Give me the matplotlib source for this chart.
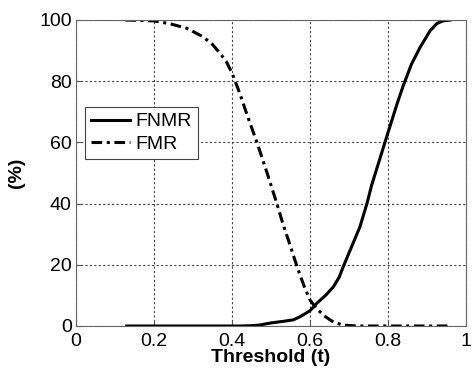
import matplotlib.pyplot as plt

plt.rcParams['font.family'] = ['Liberation Sans', 'DejaVu Sans']

# threshold values and error rates (%)
fnmr_t = [0.13, 0.30, 0.42, 0.45, 0.47, 0.50, 0.53, 0.557, 0.574, 0.59, 0.60, 0.618,
          0.64, 0.66, 0.675, 0.685, 0.703, 0.728, 0.746, 0.758, 0.78, 0.797, 0.823,
          0.839, 0.86, 0.882, 0.908, 0.925, 0.94, 0.96]
fnmr = [0.0, 0.0, 0.0, 0.1, 0.3, 1.0, 1.5, 2.0, 3.0, 4.2, 5.0, 7.5,
        10.0, 12.8, 16.0, 19.3, 24.8, 32.4, 40.0, 46.0, 55.0, 62.0, 72.5,
        78.5, 85.5, 91.0, 96.5, 98.8, 99.7, 100.0]

fmr_t = [0.126, 0.20, 0.24, 0.284, 0.326, 0.35, 0.37, 0.385, 0.40, 0.42, 0.44,
         0.464, 0.49, 0.515, 0.53, 0.55, 0.567, 0.585, 0.60, 0.618, 0.64, 0.66,
         0.685, 0.72, 0.80, 0.96]
fmr = [100.0, 99.7, 98.8, 97.3, 94.5, 92.0, 89.0, 86.5, 82.7, 76.0, 68.5,
       60.0, 50.0, 40.0, 33.6, 26.0, 19.3, 13.0, 8.5, 5.5, 3.0, 1.3,
       0.3, 0.0, 0.0, 0.0]

fig = plt.figure(figsize=(4.72, 3.71), dpi=100)
ax = fig.add_axes([76 / 472, 45 / 371, 390 / 472, 306 / 371])

ax.plot(fnmr_t, fnmr, color='black', linewidth=2.2, label='FNMR')
ax.plot(fmr_t, fmr, color='black', linewidth=2.2, dashes=(3.5, 1.5, 1, 1.5), label='FMR')

ax.set_xlim(0, 1)
ax.set_ylim(0, 100)
ax.set_xticks([0, 0.2, 0.4, 0.6, 0.8, 1])
ax.set_xticklabels(['0', '0.2', '0.4', '0.6', '0.8', '1'])
ax.set_yticks([0, 20, 40, 60, 80, 100])
ax.tick_params(direction='in', length=4, labelsize=14, colors='#555555', labelcolor='black')
ax.tick_params(axis='x', pad=5)
ax.tick_params(axis='y', pad=3)
ax.grid(True, color='#444444', linestyle=(0, (2, 2)), linewidth=0.8)
for s in ax.spines.values():
    s.set_color('#666666')

ax.set_xlabel('Threshold (t)', fontsize=14, fontweight='bold', labelpad=-1)
ax.set_ylabel('(%)', fontsize=14, fontweight='bold', labelpad=10)

leg = ax.legend(loc='upper left', bbox_to_anchor=(0.023, 0.716), fontsize=14,
                fancybox=False, framealpha=1, edgecolor='#444444',
                handlelength=2.0, borderaxespad=0, handletextpad=0.3,
                borderpad=0.3, labelspacing=0.25)
leg.get_frame().set_linewidth(0.8)

fig.savefig('out.png', dpi=100)
